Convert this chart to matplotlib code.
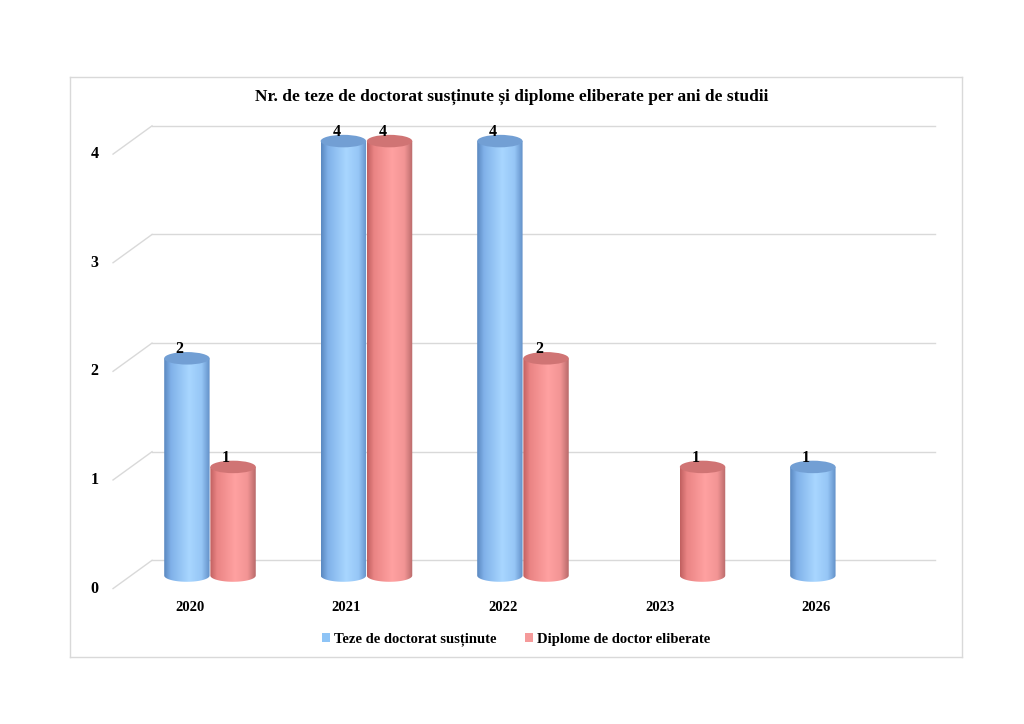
import numpy as np
import matplotlib
matplotlib.use("Agg")
import matplotlib.pyplot as plt
from matplotlib.colors import LinearSegmentedColormap
from matplotlib.patches import Ellipse, PathPatch, Patch
from matplotlib.path import Path

plt.rcParams['font.family'] = ['Liberation Serif', 'DejaVu Serif']
plt.rcParams['font.weight'] = 'bold'

title = 'Nr. de teze de doctorat susținute și diplome eliberate per ani de studii'
years = ['2020', '2021', '2022', '2023', '2026']
teze = [2, 4, 4, 0, 1]
diplome = [1, 4, 2, 1, 0]
series_names = ['Teze de doctorat susținute', 'Diplome de doctor eliberate']
yticks = [0, 1, 2, 3, 4]

# look
blue_body = LinearSegmentedColormap.from_list('b', [(0, '#5a88c0'), (0.15, '#80b1e9'), (0.55, '#a8d6ff'),
                                                    (0.82, '#96c6f6'), (1, '#6290c8')])
red_body = LinearSegmentedColormap.from_list('r', [(0, '#c06060'), (0.15, '#ea8484'), (0.55, '#ffa1a1'),
                                                   (0.82, '#f29494'), (1, '#b86a6a')])
blue_top = '#729fd4'
red_top = '#d07474'
grid_c = '#d9d9d9'

W = 0.29          # cylinder width (category units)
EH = 0.115        # ellipse height (value units)
offs = [-0.02, 0.275]

fig = plt.figure(figsize=(10.24, 7.24), dpi=100)
ax = fig.add_axes([70 / 1024, 67 / 724, 892 / 1024, 580 / 724])
ax.set_xticks([])
ax.set_yticks([])
for s in ax.spines.values():
    s.set_color(grid_c)
    s.set_linewidth(1)

# walls: back horizontal gridlines + diagonal side lines
back_dy, front_dy = 0.14, -0.12
x_back0, x_back1, x_front = -0.243, 4.76, -0.492
for v in yticks:
    ax.plot([x_back0, x_back1], [v + back_dy, v + back_dy], color=grid_c, lw=1, zorder=1)
    ax.plot([x_front, x_back0], [v + front_dy, v + back_dy], color=grid_c, lw=1, zorder=1)
    ax.text(-0.61, v + front_dy, str(v), ha='center', va='center', fontsize=11.5, fontweight='bold')


def cylinder(xc, h, cmap, topc):
    x0, x1 = xc - W / 2, xc + W / 2
    t = np.linspace(np.pi, 2 * np.pi, 60)
    bx = xc + W / 2 * np.cos(t)
    by = EH / 2 * np.sin(t)
    verts = list(zip(bx, by)) + [(x1, h), (x0, h), (bx[0], by[0])]
    codes = [Path.MOVETO] + [Path.LINETO] * (len(verts) - 2) + [Path.CLOSEPOLY]
    clip = PathPatch(Path(verts, codes), facecolor='none', edgecolor='none')
    ax.add_patch(clip)
    grad = np.linspace(0, 1, 200).reshape(1, -1)
    im = ax.imshow(grad, cmap=cmap, aspect='auto', extent=(x0, x1, -EH, h), zorder=3,
                   interpolation='bilinear')
    im.set_clip_path(clip)
    ax.add_patch(Ellipse((xc, h), W, EH, facecolor=topc, edgecolor='none', zorder=4))


for i, yr in enumerate(years):
    for vals, off, cm, tc in [(teze, offs[0], blue_body, blue_top), (diplome, offs[1], red_body, red_top)]:
        v = vals[i]
        if v == 0:
            continue
        cylinder(i + off, v, cm, tc)
        ax.text(i + off - 0.045, v + 0.085, str(v), ha='center', va='center', fontsize=11.5,
                fontweight='bold', zorder=5)
    ax.text(i, -0.29, yr, ha='center', va='center', fontsize=10.5, fontweight='bold')

ax.set_aspect('auto')
ax.set_xlim(-0.767, 4.933)
ax.set_ylim(-0.75, 4.59)

ax.text(0.4955, 0.9655, title, transform=ax.transAxes, ha='center', va='center',
        fontsize=12.5, fontweight='bold')

handles = [Patch(facecolor='#8ec4f6'), Patch(facecolor='#f59a9a')]
ax.legend(handles, series_names, loc='center', bbox_to_anchor=(0.5, 0.03), ncol=2, frameon=False,
          prop={'weight': 'bold', 'size': 10.5}, handlelength=0.55, handleheight=0.55,
          handletextpad=0.25, columnspacing=2.0)

fig.savefig('out.png', dpi=100)
